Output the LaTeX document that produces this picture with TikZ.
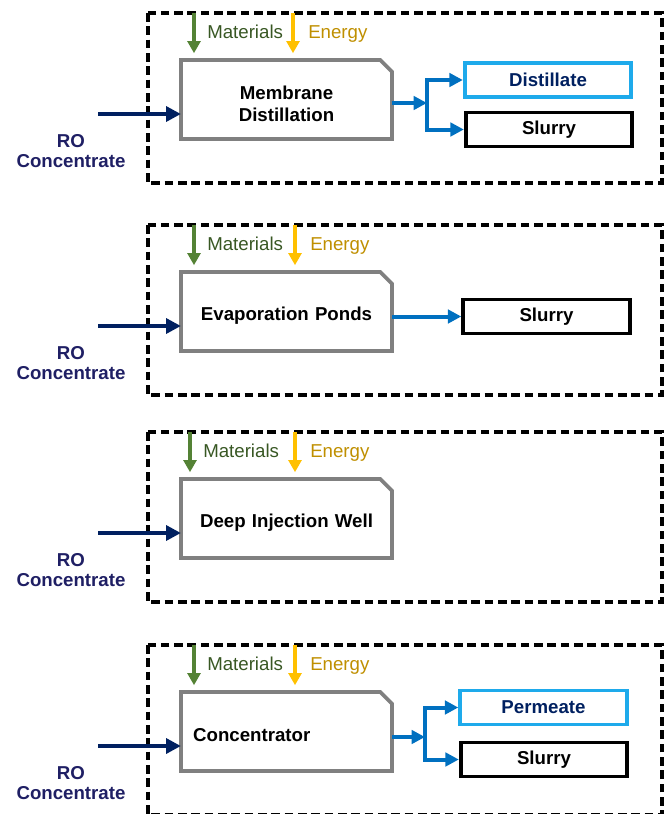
\documentclass[tikz,border=0pt]{standalone}
\usepackage{fontspec}
\setmainfont{Liberation Sans}
\usetikzlibrary{arrows.meta,calc}
\definecolor{navy}{RGB}{0,32,96}
\definecolor{rotext}{RGB}{31,31,100}
\definecolor{matgreen}{RGB}{84,130,53}
\definecolor{mattext}{RGB}{56,87,35}
\definecolor{enyellow}{RGB}{255,192,0}
\definecolor{entext}{RGB}{191,143,0}
\definecolor{outblue}{RGB}{0,112,192}
\definecolor{lightblue}{RGB}{30,170,235}
\definecolor{boxgray}{RGB}{128,128,128}

\begin{document}
\begin{tikzpicture}[x=0.75pt,y=-0.75pt,
		every node/.style={font=\fontsize{14}{16.5}\selectfont,inner sep=0pt},
		panel/.style={line width=2.6pt,dash pattern=on 6.5pt off 3.5pt},
		process/.style={minimum width=158pt,minimum height=59pt},
		proctext/.style={text width=140pt,font=\fontsize{14}{16.5}\selectfont\bfseries},
		procline/.style={draw=boxgray,line width=2.8pt},
		product/.style={draw,line width=2.8pt,minimum width=125pt,minimum height=25.5pt,font=\fontsize{14}{16.5}\selectfont\bfseries},
		feed/.style={navy,line width=3pt,-{Triangle[length=11pt,width=11pt]}},
		matarrow/.style={matgreen,line width=2.6pt,-{Triangle[length=9pt,width=9.5pt]}},
		enarrow/.style={enyellow,line width=2.6pt,-{Triangle[length=9pt,width=9.5pt]}},
		outarrow/.style={outblue,line width=3pt,-{Triangle[length=10pt,width=10pt]}}]
		\useasboundingbox (0,0) rectangle (668,814);
		% one panel per treatment option
		\foreach \i/\py/\mx/\ex/\txt/\al in {1/13/194/293/{Membrane\\Distillation}/center,
			2/225/194/295/{Evaporation Ponds}/center,
			3/432/190/295/{Deep Injection Well}/center,
			4/645/194/295/Concentrator/left}{
			\draw[panel] (148,\py) rectangle (662,\py+170);
			\node[process] (pb\i) at (286.5,\py+86.5) {};
			\draw[procline] (pb\i.north west) -- ([xshift=-9pt]pb\i.north east) -- ([yshift=-9pt]pb\i.north east) -- (pb\i.south east) -- (pb\i.south west) -- cycle;
			\node[proctext,align=\al] (pt\i) at ([yshift=-3pt]pb\i.center) {\txt};
			\coordinate (m\i) at (\mx,\py);
			\coordinate (e\i) at (\ex,\py);
			\draw[matarrow,shorten >=5pt] (m\i) -- (m\i |- pb\i.north);
			\draw[enarrow,shorten >=5pt] (e\i) -- (e\i |- pb\i.north);
			\node[anchor=base west,mattext] (ml\i) at (\mx+13,\py+25) {Materials};
			\node[anchor=base west,entext] (el\i) at (\ex+15,\py+25) {Energy};
			\coordinate (f\i) at (98,\py+101);
			\draw[feed] (f\i) -- (f\i -| pb\i.west);
			\node[rotext,align=center,font=\fontsize{14}{15}\selectfont\bfseries] (ro\i) at (71,\py+138) {RO\\Concentrate};
		}
		% products
		\node[product,draw=lightblue,text=navy] (d1) at (548,13+67) {Distillate};
		\node[product] (s1) at (549,13+116.5) {Slurry};
		\coordinate (j1) at (427,13+90);
		\draw[outarrow] (pb1.east |- j1) -- (j1);
		\draw[outarrow] (j1) |- (d1.west);
		\draw[outarrow] (j1) |- (s1.west);
		\node[product] (s2) at (546.5,225+91.5) {Slurry};
		\draw[outarrow] (pb2.east |- s2.west) -- (s2.west);
		\node[product,draw=lightblue,text=navy] (p4) at (543.5,645+62.5) {Permeate};
		\node[product] (s4) at (544,645+114.5) {Slurry};
		\coordinate (j4) at (425,645+92);
		\draw[outarrow] (pb4.east |- j4) -- (j4);
		\draw[outarrow] (j4) |- (p4.west);
		\draw[outarrow] (j4) |- (s4.west);
	\end{tikzpicture}
\end{document}
